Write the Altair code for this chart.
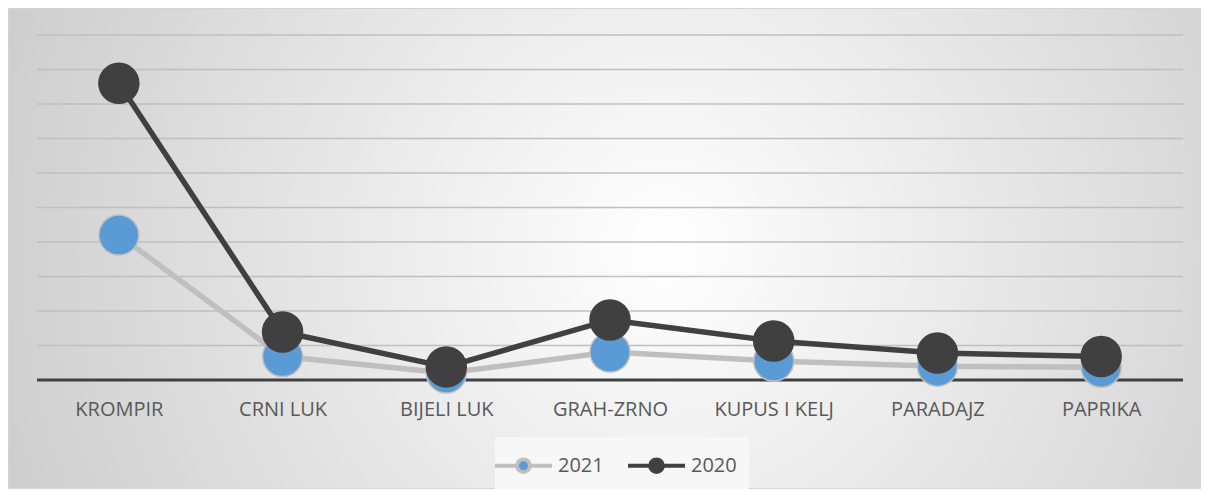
import altair as alt
import pandas as pd

categories = ["KROMPIR", "CRNI LUK", "BIJELI LUK", "GRAH-ZRNO", "KUPUS I KELJ", "PARADAJZ", "PAPRIKA"]
values_2021 = [4.20, 0.68, 0.20, 0.81, 0.55, 0.40, 0.37]
values_2020 = [8.60, 1.39, 0.38, 1.74, 1.13, 0.78, 0.68]
series_names = ["2021", "2020"]
grid_values = [1, 2, 3, 4, 5, 6, 7, 8, 9, 10]
baseline_values = [0]

rows = []
for name, vals in (("2021", values_2021), ("2020", values_2020)):
    for c, v in zip(categories, vals):
        rows.append({"kategorija": c, "vrijednost": v, "godina": name})
df = pd.DataFrame(rows)

W, H = 1146, 345
PAD = {"left": 29, "top": 27, "right": 18, "bottom": 109}

xs = alt.Scale(domain=categories, padding=0.5)
ys = alt.Scale(domain=[0, 10], nice=False, zero=True)

legend_path = ("M-2,0L-0.45,0M0.45,0L2,0"
               "M0.45,0A0.45,0.45,0,1,1,-0.45,0A0.45,0.45,0,1,1,0.45,0Z")
leg = alt.Legend(
    title=None, orient="none", legendX=458, legendY=402, direction="horizontal",
    symbolType=legend_path, symbolSize=812, symbolStrokeWidth=3.8,
    labelFont="Open Sans", labelFontSize=20, labelColor="#595959",
    labelOffset=18, columnPadding=16, padding=12, fillColor="#f7f7f7",
)
stroke_scale = alt.Scale(domain=series_names, range=["#bfbfbf", "#404040"])
fill_scale = alt.Scale(domain=series_names, range=["#5b9bd5", "#404040"])

bg = alt.Chart(alt.Data(values=[{}])).mark_rect(
    fill=alt.Gradient(
        gradient="radial",
        stops=[alt.GradientStop(color="#ffffff", offset=0),
               alt.GradientStop(color="#bdbdbd", offset=1)],
        x1=0.55, y1=0.5, r1=0, x2=0.55, y2=0.5, r2=0.78,
    ),
    stroke="#d4d4d4", strokeWidth=1,
).encode(
    x=alt.value(-PAD["left"] + 0.5), x2=alt.value(W + PAD["right"] - 0.5),
    y=alt.value(-PAD["top"] + 0.5), y2=alt.value(H + PAD["bottom"] - 0.5),
)

grid = alt.Chart(pd.DataFrame({"g": grid_values})).mark_rule(
    color="#bfbfbf", strokeWidth=1.3
).encode(y=alt.Y("g:Q", scale=ys, axis=None))

base_rule = alt.Chart(pd.DataFrame({"g": baseline_values})).mark_rule(
    color="#404040", strokeWidth=3
).encode(y=alt.Y("g:Q", scale=ys, axis=None))

xaxis = alt.Axis(title=None, domain=False, ticks=False, grid=False, labelAngle=0,
                 labelFont="Open Sans", labelFontSize=20, labelColor="#595959",
                 labelPadding=19, zindex=1)

lines = alt.Chart(df).mark_line(strokeWidth=5.5).encode(
    x=alt.X("kategorija:N", scale=xs, sort=categories, axis=xaxis),
    y=alt.Y("vrijednost:Q", scale=ys, axis=None),
    stroke=alt.Stroke("godina:N", scale=stroke_scale, sort=series_names, legend=leg),
    detail="godina:N",
)

points = alt.Chart(df).mark_circle(opacity=1, size=1600, strokeWidth=1.5).encode(
    x=alt.X("kategorija:N", scale=xs, sort=categories, axis=xaxis),
    y=alt.Y("vrijednost:Q", scale=ys, axis=None),
    fill=alt.Fill("godina:N", scale=fill_scale, sort=series_names, legend=leg),
    stroke=alt.Stroke("godina:N", scale=stroke_scale, sort=series_names, legend=leg),
)

chart = alt.layer(bg, grid, base_rule, lines, points).properties(
    width=W, height=H, padding=PAD,
    autosize=alt.AutoSizeParams(type="none"),
).configure_view(stroke=None)

chart.save("out.html", embed_options={"renderer": "svg", "actions": False})
